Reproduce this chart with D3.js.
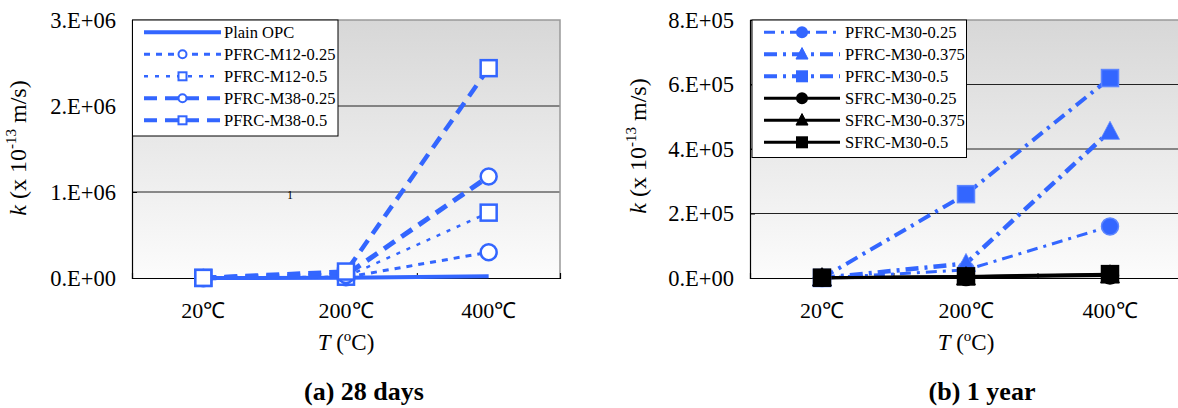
<!DOCTYPE html>
<html><head><meta charset="utf-8">
<script src="https://cdn.jsdelivr.net/npm/d3@7"></script>
<style>
html,body{margin:0;padding:0;background:#fff;}
svg text{font-family:"Liberation Serif","Times New Roman",serif;fill:#000;}
</style></head>
<body><svg id="c" width="1178" height="408"></svg>
<script>
// ---------- data ----------
const categories = ["20℃", "200℃", "400℃"];

// (a) 28 days
const plainOPC   = [0, 3000, 20000];
const pfrcM12_025 = [500, 8000, 300000];
const pfrcM12_05  = [800, 15000, 760000];
const pfrcM38_025 = [1000, 35000, 1180000];
const pfrcM38_05  = [1500, 75000, 2440000];
const ticksA = [0, 1e6, 2e6, 3e6];
const tickLabelsA = ["0.E+00", "1.E+06", "2.E+06", "3.E+06"];

// (b) 1 year
const pfrcM30_025  = [0, 25000, 160000];
const pfrcM30_0375 = [0, 45000, 455000];
const pfrcM30_05   = [0, 260000, 620000];
const sfrcM30_025  = [1000, 3000, 8000];
const sfrcM30_0375 = [1000, 4000, 10000];
const sfrcM30_05   = [1000, 5000, 12000];
const ticksB = [0, 2e5, 4e5, 6e5, 8e5];
const tickLabelsB = ["0.E+00", "2.E+05", "4.E+05", "6.E+05", "8.E+05"];

const BLUE = "#3366ff";

const seriesA = [
  {name:"Plain OPC", values:plainOPC, color:BLUE, width:4, dash:null, marker:null},
  {name:"PFRC-M12-0.25", values:pfrcM12_025, color:BLUE, width:3, dash:"6,6", marker:"circle", fill:"#fff"},
  {name:"PFRC-M12-0.5", values:pfrcM12_05, color:BLUE, width:2.5, dash:"4,7", marker:"square", fill:"#fff"},
  {name:"PFRC-M38-0.25", values:pfrcM38_025, color:BLUE, width:5, dash:"13,8", marker:"circle", fill:"#fff"},
  {name:"PFRC-M38-0.5", values:pfrcM38_05, color:BLUE, width:4.5, dash:"13,8", marker:"square", fill:"#fff"}
];
const seriesB = [
  {name:"PFRC-M30-0.25", values:pfrcM30_025, color:BLUE, width:3, dash:"11,6,3,6", marker:"circle", fill:BLUE},
  {name:"PFRC-M30-0.375", values:pfrcM30_0375, color:BLUE, width:4.5, dash:"13,6,3,6", marker:"triangle", fill:BLUE},
  {name:"PFRC-M30-0.5", values:pfrcM30_05, color:BLUE, width:4, dash:"13,6,3,6", marker:"square", fill:BLUE},
  {name:"SFRC-M30-0.25", values:sfrcM30_025, color:"#000", width:3, dash:null, marker:"circle", fill:"#000"},
  {name:"SFRC-M30-0.375", values:sfrcM30_0375, color:"#000", width:3, dash:null, marker:"triangle", fill:"#000"},
  {name:"SFRC-M30-0.5", values:sfrcM30_05, color:"#000", width:3, dash:null, marker:"square", fill:"#000"}
];

const svg = d3.select("#c");
const defs = svg.append("defs");
const grad = defs.append("linearGradient").attr("id","bg").attr("x1",0).attr("y1",0).attr("x2",0).attr("y2",1);
grad.append("stop").attr("offset","0%").attr("stop-color","#d7d7d7");
grad.append("stop").attr("offset","100%").attr("stop-color","#fcfcfc");

function drawMarker(g, type, cx, cy, size, color, fill, sw){
  if(type==="circle"){
    g.append("circle").attr("cx",cx).attr("cy",cy).attr("r",size/2)
      .attr("fill",fill).attr("stroke",color).attr("stroke-width",sw);
  } else if(type==="square"){
    g.append("rect").attr("x",cx-size/2).attr("y",cy-size/2).attr("width",size).attr("height",size)
      .attr("fill",fill).attr("stroke",color).attr("stroke-width",sw);
  } else if(type==="triangle"){
    const h=size*0.95;
    g.append("path").attr("d",`M${cx},${cy-h/2-2}L${cx+size/2+1},${cy+h/2}L${cx-size/2-1},${cy+h/2}Z`)
      .attr("fill",fill).attr("stroke",color).attr("stroke-width",sw*0.5);
  }
}

function panel(cfg){
  const {x0,x1,y0,y1,domainMax,ticks,tickLabels,series,legend,labelX,labelY,tickLabelX,markerSize,markerStroke,title,titleX,clipId} = cfg;
  const g = svg.append("g");
  const x = d3.scaleBand().domain(categories).range([x0,x1]).padding(0);
  const cx = c => x(c)+x.bandwidth()/2;
  const y = d3.scaleLinear().domain([0,domainMax]).range([y1,y0]);

  defs.append("clipPath").attr("id",clipId).append("rect")
    .attr("x",x0).attr("y",y0-12).attr("width",x1-x0+20).attr("height",y1-y0+24);

  g.append("rect").attr("x",x0).attr("y",y0).attr("width",x1-x0).attr("height",y1-y0).attr("fill","url(#bg)");
  // gridlines
  g.selectAll(".grid").data(ticks.filter(t=>t>0 && t<domainMax)).join("line")
    .attr("x1",x0).attr("x2",x1).attr("y1",d=>y(d)).attr("y2",d=>y(d))
    .attr("stroke","#222").attr("stroke-width",1);
  // top/right border
  g.append("path").attr("d",`M${x0},${y0}H${x1}V${y1}`).attr("fill","none").attr("stroke","#999").attr("stroke-width",1.5);

  // axes
  const yAxis = d3.axisLeft(y).tickValues(ticks).tickSize(-5).tickFormat("");
  const ya = g.append("g").attr("transform",`translate(${x0},0)`).call(yAxis);
  ya.select(".domain").attr("stroke","#000").attr("stroke-width",1.2);
  ya.selectAll(".tick line").attr("stroke","#000");
  const xAxis = d3.axisBottom(x).tickSize(-5).tickFormat("");
  const xa = g.append("g").attr("transform",`translate(0,${y1})`).call(xAxis);
  xa.select(".domain").attr("stroke","#000").attr("stroke-width",1.2);
  xa.selectAll(".tick").attr("transform",d=>`translate(${x(d)},0)`);
  xa.selectAll(".tick").filter(d=>d===categories[0]).remove();
  xa.selectAll(".tick line").attr("stroke","#000");

  // tick labels
  g.selectAll(".yl").data(ticks).join("text")
    .attr("x",tickLabelX).attr("y",d=>y(d)).attr("dy","0.35em")
    .attr("text-anchor","end").attr("font-size",22.5).text((d,i)=>tickLabels[i]);
  g.selectAll(".xl").data(categories).join("text")
    .attr("x",d=>cx(d)).attr("y",318).attr("text-anchor","middle").attr("font-size",22).text(d=>d);

  // axis titles
  const xt = g.append("text").attr("x",(x0+Math.min(x1,1182))/2).attr("y",350).attr("text-anchor","middle").attr("font-size",23);
  xt.append("tspan").attr("font-style","italic").text("T");
  xt.append("tspan").text(" (");
  xt.append("tspan").attr("font-size",15).attr("dy",-9).text("o");
  xt.append("tspan").attr("dy",9).text("C)");

  const yt = g.append("text").attr("transform",`translate(${labelX},${labelY}) rotate(-90)`)
    .attr("text-anchor","middle").attr("font-size",24);
  yt.append("tspan").attr("font-style","italic").text("k");
  yt.append("tspan").text(" (x 10");
  yt.append("tspan").attr("font-size",15).attr("dy",-10).text("-13");
  yt.append("tspan").attr("dy",10).text(" m/s)");

  // panel title
  g.append("text").attr("x",titleX).attr("y",400).attr("text-anchor","middle")
    .attr("font-size",26).attr("font-weight","bold").text(title);

  // series
  const pg = g.append("g").attr("clip-path",`url(#${clipId})`);
  const line = d3.line().x((d,i)=>cx(categories[i])).y(d=>y(d));
  series.forEach(s=>{
    pg.append("path").datum(s.values).attr("d",line).attr("fill","none")
      .attr("stroke",s.color).attr("stroke-width",s.width)
      .attr("stroke-dasharray",s.dash).attr("stroke-linejoin","round");
  });
  series.forEach(s=>{
    if(!s.marker) return;
    s.values.forEach((v,i)=>{
      drawMarker(pg, s.marker, cx(categories[i]), y(v), markerSize, s.fill===s.color && s.color===BLUE ? "#5c85ff" : s.color, s.fill, markerStroke);
    });
  });

  // legend
  const lg = g.append("g");
  lg.append("rect").attr("x",legend.x).attr("y",legend.y).attr("width",legend.w).attr("height",legend.h)
    .attr("fill","#fff").attr("stroke","#000").attr("stroke-width",1);
  series.forEach((s,i)=>{
    const yy = legend.y + 12.3 + i*22;
    lg.append("line").attr("x1",legend.lx0).attr("x2",legend.lx1).attr("y1",yy).attr("y2",yy)
      .attr("stroke",s.color).attr("stroke-width",Math.min(s.width,4)).attr("stroke-dasharray",s.dash);
    if(s.marker) drawMarker(lg, s.marker, (legend.lx0+legend.lx1)/2, yy, legend.ms, s.color, s.fill, 2);
    lg.append("text").attr("x",legend.tx).attr("y",yy).attr("dy","0.35em").attr("font-size",16.5).text(s.name);
  });
  return g;
}

panel({x0:132, x1:560, y0:20, y1:278, domainMax:3e6, ticks:ticksA, tickLabels:tickLabelsA, series:seriesA,
  legend:{x:132.5,y:20,w:205.5,h:116,lx0:144,lx1:221,tx:224,ms:8},
  labelX:26, labelY:148, tickLabelX:116, markerSize:16, markerStroke:2.5,
  title:"(a) 28 days", titleX:364, clipId:"cpA"});

panel({x0:750, x1:1182, y0:20, y1:278, domainMax:8e5, ticks:ticksB, tickLabels:tickLabelsB, series:seriesB,
  legend:{x:752,y:20,w:214.5,h:137.5,lx0:764,lx1:840,tx:845,ms:10},
  labelX:646, labelY:146, tickLabelX:734, markerSize:17, markerStroke:1.5,
  title:"(b) 1 year", titleX:982, clipId:"cpB"});

// stray label present in the original figure
svg.append("text").attr("x",290).attr("y",199).attr("text-anchor","middle").attr("font-size",12).style("fill","#000").text("1");
</script>
</body></html>
